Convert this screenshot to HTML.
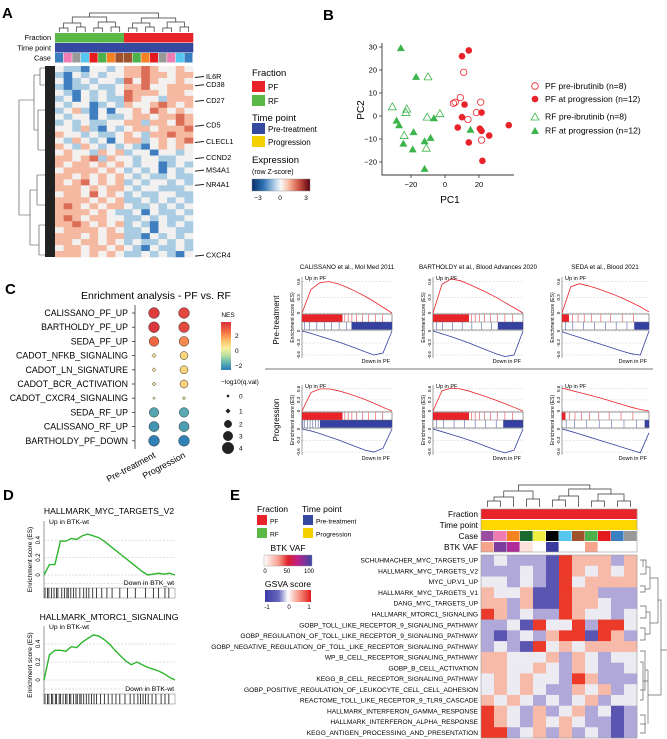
<!DOCTYPE html>
<html><head><meta charset="utf-8">
<style>
html,body{margin:0;padding:0;background:#fff;}
svg{display:block;font-family:"Liberation Sans",sans-serif;}
</style></head>
<body>
<svg id="fig" xmlns="http://www.w3.org/2000/svg" width="667" height="739" viewBox="0 0 667 739">
<rect x="0" y="0" width="667" height="739" fill="#fff"/>
<text x="2" y="18" font-size="15" font-weight="bold">A</text>
<text x="323" y="20" font-size="15" font-weight="bold">B</text>
<text x="5" y="294" font-size="15" font-weight="bold">C</text>
<text x="3" y="500" font-size="15" font-weight="bold">D</text>
<text x="230" y="500" font-size="15" font-weight="bold">E</text>

<g font-size="7.3" text-anchor="end">
<text x="51" y="40">Fraction</text>
<text x="51" y="50.5">Time point</text>
<text x="51" y="60.5">Case</text>
</g>
<g id="dendroA"></g>
<path d="M19,100H34M19,100V215M19,215H30M34,75V130M34,75H40M34,130H38M40,68V85M40,68H45M40,85H45M38,110V150M38,110H45M38,150H45M30,190V245M30,190H37M30,245H39M37,175V205M37,175H45M37,205H45M39,225V255M39,225H45M39,255H45" fill="none" stroke="#444" stroke-width="0.6"/>
<rect x="45" y="66" width="10" height="191" fill="#222"/>
<g id="geneLabels" font-size="7.3"></g>
<g font-size="9.5">
<text x="252" y="76">Fraction</text>
<rect x="252" y="81" width="13" height="11" fill="#e8232a"/>
<text x="268" y="90" font-size="8">PF</text>
<rect x="252" y="95" width="13" height="11" fill="#5ab847"/>
<text x="268" y="104" font-size="8">RF</text>
<text x="252" y="121">Time point</text>
<rect x="252" y="123" width="13" height="11" fill="#3549a0"/>
<text x="268" y="132" font-size="8">Pre-treatment</text>
<rect x="252" y="136" width="13" height="11" fill="#f5d000"/>
<text x="268" y="145" font-size="8">Progression</text>
<text x="252" y="163">Expression</text>
<text x="252" y="174" font-size="7">(row Z-score)</text>
</g>
<defs>
<linearGradient id="gExpr" x1="0" x2="1" y1="0" y2="0"><stop offset="0" stop-color="#08306b"/><stop offset="0.2" stop-color="#2f73b5"/><stop offset="0.42" stop-color="#c5dcee"/><stop offset="0.5" stop-color="#f7f7f7"/><stop offset="0.62" stop-color="#f8c0a6"/><stop offset="0.8" stop-color="#d25a48"/><stop offset="1" stop-color="#5a0010"/></linearGradient>
<linearGradient id="gNes" x1="0" x2="0" y1="0" y2="1"><stop offset="0" stop-color="#d7303c"/><stop offset="0.2" stop-color="#f46d43"/><stop offset="0.4" stop-color="#fdc46a"/><stop offset="0.55" stop-color="#f8f0a0"/><stop offset="0.7" stop-color="#b8e0a0"/><stop offset="0.85" stop-color="#5fb0b0"/><stop offset="1" stop-color="#2c7bb6"/></linearGradient>
<linearGradient id="gVaf" x1="0" x2="1" y1="0" y2="0"><stop offset="0" stop-color="#ffffff"/><stop offset="0.3" stop-color="#f7a090"/><stop offset="0.5" stop-color="#e0202a"/><stop offset="0.7" stop-color="#c0208a"/><stop offset="1" stop-color="#3a4aa8"/></linearGradient>
<linearGradient id="gGsva" x1="0" x2="1" y1="0" y2="0"><stop offset="0" stop-color="#3a3aa8"/><stop offset="0.3" stop-color="#6a6abf"/><stop offset="0.5" stop-color="#ffffff"/><stop offset="0.75" stop-color="#f59080"/><stop offset="1" stop-color="#e01a1a"/></linearGradient>
</defs>
<rect x="252" y="179" width="58" height="12" fill="url(#gExpr)" stroke="#888" stroke-width="0.4"/>
<g font-size="6.5" text-anchor="middle">
<text x="258" y="200">−3</text>
<text x="280" y="200">0</text>
<text x="306" y="200">3</text>
</g>

<g id="scatter"></g>
<text x="450" y="203" font-size="10" text-anchor="middle">PC1</text>
<text x="0" y="0" font-size="10" text-anchor="middle" transform="translate(364,110) rotate(-90)">PC2</text>
<g font-size="8.6">
<circle cx="535" cy="86" r="3.3" fill="none" stroke="#e8232a" stroke-width="0.8"/>
<text x="545" y="89">PF pre-ibrutinib (n=8)</text>
<circle cx="535" cy="99" r="3.3" fill="#e8232a"/>
<text x="545" y="102">PF at progression (n=12)</text>
<path d="M531,120L535,113L539,120Z" fill="none" stroke="#3cb44b" stroke-width="0.8"/>
<text x="545" y="119.5">RF pre-ibrutinib (n=8)</text>
<path d="M531,134L535,127L539,134Z" fill="#3cb44b"/>
<text x="545" y="133.5">RF at progression (n=12)</text>
</g>

<text x="156" y="299" font-size="10.5" text-anchor="middle">Enrichment analysis - PF vs. RF</text>
<g id="dotplot"></g>
<text x="228" y="317" font-size="6.5" text-anchor="middle">NES</text>
<rect x="221" y="322" width="10" height="48" fill="url(#gNes)"/>
<g font-size="6.5">
<text x="235" y="338">2</text>
<text x="235" y="353">0</text>
<text x="235" y="368">−2</text>
</g>
<text x="221" y="384" font-size="6.5">−log10(q.val)</text>
<g id="sizeLegend"></g>
<text x="279" y="320" font-size="8" text-anchor="middle" transform="rotate(-90 279 320)">Pre-treatment</text>
<text x="279" y="420" font-size="8" text-anchor="middle" transform="rotate(-90 279 420)">Progression</text>
<line x1="265" y1="369" x2="653" y2="369" stroke="#777" stroke-width="0.9"/>
<g font-size="6.3" text-anchor="middle">
<text x="347" y="269">CALISSANO et al., Mol Med 2011</text>
<text x="478" y="269">BARTHOLDY et al., Blood Advances 2020</text>
<text x="605" y="269">SEDA et al., Blood 2021</text>
</g>
<g id="gsea"></g>

<text x="109" y="514" font-size="8.6" text-anchor="middle">HALLMARK_MYC_TARGETS_V2</text>
<text x="109" y="620" font-size="8.6" text-anchor="middle">HALLMARK_MTORC1_SIGNALING</text>
<g id="dplots"></g>

<g font-size="8.6">
<text x="257" y="512">Fraction</text>
<rect x="257" y="515" width="10" height="10" fill="#e8232a"/>
<text x="270" y="523.5" font-size="6.6">PF</text>
<rect x="257" y="528" width="10" height="10" fill="#5ab847"/>
<text x="270" y="536.5" font-size="6.6">RF</text>
<text x="302" y="512">Time point</text>
<rect x="303" y="515" width="10" height="10" fill="#3549a0"/>
<text x="316" y="523.5" font-size="6.6">Pre-treatment</text>
<rect x="303" y="528" width="10" height="10" fill="#f5d000"/>
<text x="316" y="536.5" font-size="6.6">Progression</text>
<text x="288" y="551" text-anchor="middle">BTK VAF</text>
<rect x="264" y="555" width="48" height="11" fill="url(#gVaf)" stroke="#999" stroke-width="0.4"/>
<text x="288" y="587" text-anchor="middle">GSVA score</text>
<rect x="265" y="590" width="46" height="12" fill="url(#gGsva)"/>
</g>
<g font-size="6" text-anchor="middle">
<text x="265" y="573">0</text>
<text x="287" y="573">50</text>
<text x="309" y="573">100</text>
<text x="267" y="609">-1</text>
<text x="289" y="609">0</text>
<text x="309" y="609">1</text>
</g>
<g font-size="8.3" text-anchor="end">
<text x="478" y="517">Fraction</text>
<text x="478" y="528">Time point</text>
<text x="478" y="539">Case</text>
<text x="478" y="550">BTK VAF</text>
</g>
<g id="dendroE"></g>
<path d="M640,560H646V574H640M643,560V567M640,586H645V592H640M645,589H650M650,567H646M650,567V589M650,578H655M640,606H646V618H640M640,628H645V640H640M646,612H650V634H645M650,623H658M655,578H658V600M658,600V623M640,651H645V690H640M640,662H643V700H640M643,681H648M640,715H645V733H640M640,724H646M648,670V724M645,670H648M648,695H661V600H658M661,650H667" fill="none" stroke="#666" stroke-width="0.7"/>
<g id="heatE"></g>
<g id="heatA"></g>
</svg>
<script>
// ===== Panel A data =====
const aCaseColors = ["#3a7fc0","#f07cb4","#999999","#56c8f0","#e41a1c","#4db04a","#f58220","#a0522d","#a0522d","#4db04a","#f58220","#e41a1c","#999999","#f07cb4","#56c8f0","#3a7fc0"];
const aFraction = ["RF","RF","RF","RF","RF","RF","RF","RF","PF","PF","PF","PF","PF","PF","PF","PF"];
const aRows = [
"wbbBwwbwrrRrwwrw","bBwbwbwwrrRrrwrr","wBbwbwwbRwRrwwrw","bBbbwbbwrrRwwrrr",
"wbBwbwbwRrrrwrrw","bwBwbwbbRrwwbrrr","wbwwBbwbrwwrRrwr","bwrbBwBwwrwRrwrw",
"wbwwBwbbwrrwrrRr","bwbwbbwwrrbrrwRr","wwbrbBwbwrrwrrrR","rwwbwbbwrwbrrRrr",
"wbrwbwBwrrbwrwrR","rwbrwbwbwbBwrwrw","wrwwbrwrbwwBwwbw","rrwrRbrwwbwwbbww",
"rwrrwrwrwbwwBbwb","wrrrrwrwbwbwBwbw","rrwrwrwrwbwbbwbb","rwrRwrwrbwbwwbwb",
"rrrwrwrrwbwwbbbw","wrrwRwrwbwbbwwbb","rrrrwrwrbbwbwbwb","rRrwrwrrwbbwbwbw",
"rrrrwrwbbwBwbbwb","rRrwrrwwbbwbwbbw","rrRrwrwrbwbBwbwb","wrrrrwrwbbwBwwbb",
"rrrwrwrrbbBwbwbw","rrwrrwrwbwbbwbwb","wrrwrrwrwbBwbbwb","rrrwrwrwbbwbwbBw"];
const aGenes = ["IL6R","CD38","CD27","CD5","CLECL1","CCND2","MS4A1","NR4A1","CXCR4"];
const aGeneRowPos = [0.055,0.098,0.18,0.31,0.395,0.48,0.545,0.62,0.99];
// ===== Panel B data =====
const pfPreX=[11,9,5,6,13.5,21,18.5,21.5], pfPreY=[19,8,5.5,6,-1.5,6,1.5,-10.5];
const pfProgX=[10,14,11.5,21.5,10,7.5,20.5,21.5,26,14,37.5,22], pfProgY=[26,28.5,5,1.5,-0.5,-5,-5.5,-6.5,-8.5,-11.5,-4,-19.5];
const rfPreX=[-10,-31,-22.5,-23,-10.5,-3,-24,-11], rfPreY=[17,4,3,1.5,-0.5,1,-8.5,-14];
const rfProgX=[-26,-17,-28.5,-27,-18.5,-24.5,-19,-12,-8.5,-6.5,-12,15], rfProgY=[29.5,17,-2,-4,-7,-12,-14.5,-11,-9.5,-1,-23,-6];
const bXTicks=[-20,0,20], bYTicks=[30,20,10,0,-10,-20];
// ===== Panel C data =====
const pathways=["CALISSANO_PF_UP","BARTHOLDY_PF_UP","SEDA_PF_UP","CADOT_NFKB_SIGNALING","CADOT_LN_SIGNATURE","CADOT_BCR_ACTIVATION","CADOT_CXCR4_SIGNALING","SEDA_RF_UP","CALISSANO_RF_UP","BARTHOLDY_PF_DOWN"];
const nesPre=[3.0,3.1,2.3,0.5,0.5,0.5,0.4,-1.7,-2.1,-2.5];
const nesProg=[2.8,2.8,1.9,0.9,0.9,0.9,0.5,-1.6,-1.9,-2.5];
const qPre=[3.6,3.6,3.1,0.6,0.5,0.5,0.1,3.0,3.3,3.6];
const qProg=[3.6,3.5,3.1,2.3,2.3,2.3,0.3,3.0,3.3,3.6];
const qLegend=[0,1,2,3,4];
const gseaUp=[
[0,0.45,0.58,0.6,0.56,0.49,0.41,0.32,0.22,0.11,0],
[0,0.55,0.65,0.62,0.55,0.47,0.39,0.3,0.2,0.1,0],
[0,0.5,0.56,0.52,0.47,0.41,0.35,0.28,0.2,0.12,0.02],
[0,0.5,0.6,0.6,0.55,0.48,0.4,0.31,0.21,0.1,0],
[0,0.55,0.62,0.6,0.54,0.46,0.38,0.29,0.2,0.1,0],
[0.62,0.56,0.5,0.44,0.38,0.31,0.24,0.17,0.1,0.04,0]];
const gseaDown=[
[0,-0.06,-0.13,-0.2,-0.27,-0.35,-0.43,-0.52,-0.6,-0.55,0],
[0,-0.07,-0.14,-0.22,-0.3,-0.39,-0.48,-0.57,-0.64,-0.6,0],
[-0.02,-0.09,-0.16,-0.23,-0.3,-0.37,-0.44,-0.51,-0.57,-0.6,0],
[0,-0.05,-0.12,-0.2,-0.28,-0.37,-0.46,-0.55,-0.6,-0.5,0],
[0,-0.07,-0.14,-0.21,-0.29,-0.37,-0.46,-0.55,-0.62,-0.55,0],
[0,-0.06,-0.13,-0.2,-0.27,-0.34,-0.41,-0.48,-0.55,-0.62,-0.1]];
const redDense=[0.45,0.4,0.08,0.45,0.4,0.04];
const blueDenseStart=[0.55,0.72,0.83,0.2,0.78,0.95];
const sparseRed=[0.05,0.12,0.2,0.3,0.42,0.55,0.7,0.85];
const sparseBlue=[0.05,0.15,0.3,0.45,0.6,0.75,0.9];
// Panel D
const dMyc=[0,0.12,0.12,0.39,0.39,0.42,0.41,0.45,0.47,0.45,0.43,0.39,0.34,0.29,0.24,0.19,0.14,0.09,0.04,0.0,0.01,0.02,0.01,0.02,0];
const dMtor=[0,0.28,0.33,0.33,0.32,0.37,0.36,0.42,0.46,0.5,0.49,0.45,0.4,0.33,0.27,0.21,0.17,0.2,0.17,0.14,0.12,0.1,0.07,0.03,0];
const dMycHits=[0,0.02,0.03,0.05,0.07,0.09,0.1,0.13,0.15,0.17,0.18,0.2,0.22,0.24,0.27,0.3,0.32,0.34,0.37,0.4,0.44,0.48,0.52,0.58,0.64,0.7,0.78,0.84,0.88,0.93,0.96];
const dMtorHits=[0,0.02,0.03,0.05,0.06,0.08,0.09,0.11,0.12,0.14,0.16,0.17,0.19,0.2,0.22,0.24,0.25,0.27,0.28,0.3,0.32,0.34,0.36,0.38,0.4,0.43,0.46,0.49,0.52,0.55,0.58,0.62,0.66,0.69,0.72,0.74,0.76,0.78,0.8,0.83,0.86,0.9,0.93,0.96];
// Panel E data
const eCaseColors=["#9b4ea0","#f07cb4","#f58220","#1a6a30","#f0ee40","#000000","#56c8f0","#a0522d","#4db04a","#e41a1c","#3a7fc0","#999999"];
const eVaf=[28,80,65,8,0,100,0,0,28,0,0,0];
const eSets=["SCHUHMACHER_MYC_TARGETS_UP","HALLMARK_MYC_TARGETS_V2","MYC_UP.V1_UP","HALLMARK_MYC_TARGETS_V1","DANG_MYC_TARGETS_UP","HALLMARK_MTORC1_SIGNALING","GOBP_TOLL_LIKE_RECEPTOR_9_SIGNALING_PATHWAY","GOBP_REGULATION_OF_TOLL_LIKE_RECEPTOR_9_SIGNALING_PATHWAY","GOBP_NEGATIVE_REGULATION_OF_TOLL_LIKE_RECEPTOR_SIGNALING_PATHWAY","WP_B_CELL_RECEPTOR_SIGNALING_PATHWAY","GOBP_B_CELL_ACTIVATION","KEGG_B_CELL_RECEPTOR_SIGNALING_PATHWAY","GOBP_POSITIVE_REGULATION_OF_LEUKOCYTE_CELL_CELL_ADHESION","REACTOME_TOLL_LIKE_RECEPTOR_9_TLR9_CASCADE","HALLMARK_INTERFERON_GAMMA_RESPONSE","HALLMARK_INTERFERON_ALPHA_RESPONSE","KEGG_ANTIGEN_PROCESSING_AND_PRESENTATION"];
const eRows=["bwbbbBRrrrbr","bbbwbBRrwrwr","wwbwbBRwrrrr","rwwrBBRrrbbb","rrbrBBRrrwbb","RrbwbbRrwwbw","bbwBRwwRbRRw","bBbwbrRRBRrb","bwbBRwrwrrrr","rrwwwrbrwbww","rrwwrwbrwbbw","wrwrwwbRrbbb","wrwrwbbrwrbw","rwrwbwbwrbww","RrwbrbwrbwBb","RrwbrwrwbbBb","RRbwrbrbwbBb"];
// dendrogram topologies: [left, right, mergeHeight]
const treeA=[[[[0,1,28],[2,3,27],23],[[4,5,28],[6,7,27],22],17],[[[8,9,28],[10,11,27],23],[[12,13,28],[14,15,27],22],18],13];
const treeE=[[[[0,1,501],2,497],[3,4,499],491],[[[5,6,500],7,496],[[8,9,501],[10,11,501],494],489],485];

const NS="http://www.w3.org/2000/svg";
function mk(tag, attrs, parent){const e=document.createElementNS(NS,tag);for(const k in attrs)e.setAttribute(k,attrs[k]);parent.appendChild(e);return e;}

function drawTree(node,parent,leafX,leafY){
  if(typeof node==="number")return [leafX(node),leafY];
  const a=drawTree(node[0],parent,leafX,leafY), b=drawTree(node[1],parent,leafX,leafY), h=node[2];
  const p=mk("path",{d:`M${a[0]},${a[1]}V${h}H${b[0]}V${b[1]}`,fill:"none",stroke:"#333","stroke-width":0.7},parent);
  
  
  return [(a[0]+b[0])/2,h];
}

// ===== Panel A =====
const heatA=document.getElementById("heatA");
const aColors={B:"#3f7fbf",b:"#a9cce3",w:"#f3f1f0",r:"#f5b8a0",R:"#dc6e58"};
const ax0=55, ax1=193, ay0=66, ay1=257;
const acw=(ax1-ax0)/aCaseColors.length, arh=(ay1-ay0)/aRows.length;
function aX(i){return ax0+i*acw;}
drawTree(treeA,document.getElementById("dendroA"),i=>aX(i)+acw/2,32);
aFraction.forEach((f,i)=>{
  const r=mk("rect",{x:aX(i),y:33,width:acw+0.3,height:9.5,fill:f==="PF"?"#e8232a":"#5ab847"},heatA);
  
  
  const t=mk("rect",{x:aX(i),y:43,width:acw+0.3,height:9.5,fill:"#3549a0"},heatA);
  
  
  const c=mk("rect",{x:aX(i),y:53,width:acw-0.5,height:9.5,fill:aCaseColors[i]},heatA);
  
  
});
aRows.forEach((row,ri)=>{
  for(let ci=0;ci<row.length;ci++){
    const r=mk("rect",{x:aX(ci),y:ay0+ri*arh,width:acw+0.3,height:arh+0.3,fill:aColors[row[ci]]},heatA);
    
    
  }
});
const gl=document.getElementById("geneLabels");
aGenes.forEach((g,i)=>{
  const y=ay0+aGeneRowPos[i]*(ay1-ay0);
  const l=mk("line",{x1:195,y1:y+1,x2:204,y2:y,stroke:"#222","stroke-width":1},gl);
  
  
  const t=mk("text",{x:206,y:y+2.5},gl);
  t.textContent=g;
  
  
});

// ===== Panel B =====
const sc=document.getElementById("scatter");
function bx(v){return 445+1.7*v;}
function by(v){return 116-2.3*v;}
const axl=mk("path",{d:`M382,43V175H514`,fill:"none",stroke:"#333","stroke-width":0.9},sc);


bXTicks.forEach(v=>{
  const t=mk("line",{x1:bx(v),y1:175,x2:bx(v),y2:178,stroke:"#333","stroke-width":0.8},sc);
  
  
  const l=mk("text",{x:bx(v),y:187,"font-size":7.5,"text-anchor":"middle"},sc);
  l.textContent=v<0?"−"+Math.abs(v):String(v);
  
  
});
bYTicks.forEach(v=>{
  const t=mk("line",{x1:379,y1:by(v),x2:382,y2:by(v),stroke:"#333","stroke-width":0.8},sc);
  
  
  const l=mk("text",{x:377,y:by(v)+2.5,"font-size":7.5,"text-anchor":"end"},sc);
  l.textContent=v<0?"−"+Math.abs(v):String(v);
  
  
});
function tri(x,y){return `M${x-4},${y+3}L${x},${y-4}L${x+4},${y+3}Z`;}
pfPreX.forEach((v,i)=>{
  const p=mk("circle",{cx:bx(v),cy:by(pfPreY[i]),r:3.2,fill:"none",stroke:"#e8232a","stroke-width":0.8},sc);
  
  
});
pfProgX.forEach((v,i)=>{
  const p=mk("circle",{cx:bx(v),cy:by(pfProgY[i]),r:3.3,fill:"#e8232a"},sc);
  
  
});
rfPreX.forEach((v,i)=>{
  const p=mk("path",{d:tri(bx(v),by(rfPreY[i])),fill:"none",stroke:"#3cb44b","stroke-width":0.8},sc);
  
  
});
rfProgX.forEach((v,i)=>{
  const p=mk("path",{d:tri(bx(v),by(rfProgY[i])),fill:"#3cb44b"},sc);
  
  
});

// ===== Panel C dot plot =====
const dp=document.getElementById("dotplot");
const nesStops=[[-2.6,[44,123,182]],[-1.5,[95,176,176]],[-0.5,[184,224,160]],[0.3,[248,240,160]],[1.2,[253,196,106]],[2.2,[244,109,67]],[3.2,[215,48,60]]];
function nesColor(v){
  if(v<=nesStops[0][0])return `rgb(${nesStops[0][1]})`;
  for(let i=1;i<nesStops.length;i++){if(v<=nesStops[i][0]){const a=nesStops[i-1],b=nesStops[i];const t=(v-a[0])/(b[0]-a[0]);return `rgb(${a[1].map((c,k)=>Math.round(c+(b[1][k]-c)*t)).join(",")})`;}}
  return `rgb(${nesStops[nesStops.length-1][1]})`;
}
function rowY(i){return 313+i*14.2;}
const colX=[154,184];
const dAxis=mk("line",{x1:135,y1:305,x2:135,y2:449,stroke:"#333","stroke-width":0.8},dp);


function drawMark(parent,x,y,q,fill){
  let e;
  if(q>=1.5){e=mk("circle",{cx:x,cy:y,r:1.6+q*1.05,fill:fill,stroke:"#333","stroke-width":0.5},parent);}
  else{const s=1.2+q*1.6;e=mk("path",{d:`M${x},${y-s}L${x+s},${y}L${x},${y+s}L${x-s},${y}Z`,fill:fill,stroke:"#333","stroke-width":0.5},parent);}
  return e;
}
pathways.forEach((p,i)=>{
  const y=rowY(i);
  const t=mk("text",{x:128,y:y+3,"font-size":8.8,"text-anchor":"end"},dp);
  t.textContent=p;
  
  
  const tk=mk("line",{x1:132,y1:y,x2:135,y2:y,stroke:"#333","stroke-width":0.8},dp);
  
  
  const a=drawMark(dp,colX[0],y,qPre[i],nesColor(nesPre[i]));
  
  
  const b=drawMark(dp,colX[1],y,qProg[i],nesColor(nesProg[i]));
  
  
});
["Pre-treatment","Progression"].forEach((s,i)=>{
  const t=mk("text",{x:colX[i]+2,y:457,"font-size":8.8,"text-anchor":"end",transform:`rotate(-28 ${colX[i]+2} 457)`},dp);
  t.textContent=s;
  
  
});
const sl=document.getElementById("sizeLegend");
const slY=[396,411,424,436,448];
qLegend.forEach((q,i)=>{
  const m=drawMark(sl,228,slY[i],q===0?0.2:(q===1?0.7:q),"#222");
  
  
  const t=mk("text",{x:239,y:slY[i]+2.5,"font-size":6.5},sl);
  t.textContent=String(q);
  
  
});

// ===== GSEA small plots =====
const gs=document.getElementById("gsea");
const cols=[[302,392],[433,523],[562,649]];
const rowsL=[{y0:277,z:313,b0:314,b1:330,y1:358},{y0:385,z:411,b0:412,b1:428,y1:455}];
const upTicks=[["0.6",0.6],["0.3",0.3],["0",0]];
const dnTicks=[["0",0],["-0.3",-0.3],["-0.6",-0.6]];
for(let k=0;k<6;k++){
  const c=cols[k%3], L=rowsL[Math.floor(k/3)];
  const x0=c[0], x1=c[1], w=x1-x0;
  const uy=v=>L.z-(v/0.65)*(L.z-L.y0-2);
  const dy=v=>L.b1+1+(-v/0.65)*(L.y1-L.b1-2);
  const px=i=>x0+i*w/10;
  const g=mk("g",{},gs);
  
  
  upTicks.forEach(t=>{const l=mk("line",{x1:x0,y1:uy(t[1]),x2:x1,y2:uy(t[1]),stroke:"#ccc","stroke-width":0.5,"stroke-dasharray":"2,1.5"},g);
    
    
    const tx=mk("text",{x:x0-2,y:uy(t[1]),"font-size":4.5,"text-anchor":"middle",transform:`rotate(-90 ${x0-2} ${uy(t[1])})`},g);
    tx.textContent=t[0];
    
    });
  dnTicks.forEach(t=>{const l=mk("line",{x1:x0,y1:dy(t[1]),x2:x1,y2:dy(t[1]),stroke:"#ccc","stroke-width":0.5,"stroke-dasharray":"2,1.5"},g);
    
    
    const tx=mk("text",{x:x0-2,y:dy(t[1]),"font-size":4.5,"text-anchor":"middle",transform:`rotate(-90 ${x0-2} ${dy(t[1])})`},g);
    tx.textContent=t[0];
    
    });
  const yl=mk("line",{x1:x0,y1:L.y0,x2:x0,y2:L.y1,stroke:"#444","stroke-width":0.5},g);
  
  
  const ylab=mk("text",{x:x0-8,y:(L.y0+L.y1)/2,"font-size":5,"text-anchor":"middle",transform:`rotate(-90 ${x0-8} ${(L.y0+L.y1)/2})`},g);
  ylab.textContent="Enrichment score (ES)";
  
  
  const band=mk("rect",{x:x0,y:L.b0,width:w,height:L.b1-L.b0,fill:"#fff",stroke:"#555","stroke-width":0.6},g);
  
  
  const mid=(L.b0+L.b1)/2;
  const rd=mk("rect",{x:x0,y:L.b0+0.5,width:w*redDense[k],height:mid-L.b0-0.5,fill:"#e8232a"},g);
  
  
  sparseRed.forEach(f=>{const xx=x0+w*(redDense[k]+(1-redDense[k])*f*0.95);
    const l=mk("line",{x1:xx,y1:L.b0+0.5,x2:xx,y2:mid,stroke:"#e8232a","stroke-width":0.5},g);
    
    });
  const bd=mk("rect",{x:x0+w*blueDenseStart[k],y:mid,width:w*(1-blueDenseStart[k]),height:L.b1-mid-0.5,fill:"#3441a0"},g);
  
  
  sparseBlue.forEach(f=>{const xx=x0+w*blueDenseStart[k]*f;
    const l=mk("line",{x1:xx,y1:mid,x2:xx,y2:L.b1-0.5,stroke:"#3441a0","stroke-width":0.5},g);
    
    });
  const sep=mk("line",{x1:x0,y1:mid,x2:x1,y2:mid,stroke:"#777","stroke-width":0.6},g);
  
  
  const up=mk("polyline",{points:gseaUp[k].map((v,i)=>px(i)+","+uy(v)).join(" "),fill:"none",stroke:"#e8232a","stroke-width":0.8},g);
  
  
  const dn=mk("polyline",{points:gseaDown[k].map((v,i)=>px(i)+","+dy(v)).join(" "),fill:"none",stroke:"#3441a0","stroke-width":0.8},g);
  
  
  const ut=mk("text",{x:x0+3,y:L.y0+3,"font-size":5.5},g);
  ut.textContent="Up in PF";
  
  
  const dt=mk("text",{x:x1-2,y:L.y1+5,"font-size":5.5,"text-anchor":"end"},g);
  dt.textContent="Down in PF";
  
  
}

// ===== Panel D =====
const dpl=document.getElementById("dplots");
const dCfg=[{es:dMyc,hits:dMycHits,zero:575,s:87,top:521,bar0:588,bar1:598,down:"Down in BTK_wt"},{es:dMtor,hits:dMtorHits,zero:680,s:90,top:626,bar0:694,bar1:704,down:"Down in BTK-wt"}];
const dx0=44, dx1=175;
dCfg.forEach((c,ci)=>{
  const g=mk("g",{},dpl);
  
  
  const yy=v=>c.zero-v*c.s;
  [0.4,0.2,0,-0.1].forEach(v=>{
    const l=mk("line",{x1:dx0,y1:yy(v),x2:dx1,y2:yy(v),stroke:"#bbb","stroke-width":0.5,"stroke-dasharray":"2,1.5"},g);
    
    
  });
  [0,0.2,0.4].forEach(v=>{
    const t=mk("text",{x:dx0-4,y:yy(v),"font-size":6,"text-anchor":"middle",transform:`rotate(-90 ${dx0-4} ${yy(v)})`},g);
    t.textContent=String(v);
    
    
  });
  const ax=mk("line",{x1:dx0,y1:c.top,x2:dx0,y2:c.bar1,stroke:"#555","stroke-width":0.6},g);
  
  
  const yt=mk("text",{x:dx0-12,y:(c.top+c.bar1)/2,"font-size":6.5,"text-anchor":"middle",transform:`rotate(-90 ${dx0-12} ${(c.top+c.bar1)/2})`},g);
  yt.textContent="Enrichment score (ES)";
  
  
  const br=mk("rect",{x:dx0,y:c.bar0,width:dx1-dx0,height:c.bar1-c.bar0,fill:"#fff",stroke:"#777","stroke-width":0.5},g);
  
  
  c.hits.forEach(h=>{
    const xx=dx0+1+h*(dx1-dx0-2);
    const l=mk("line",{x1:xx,y1:c.bar0,x2:xx,y2:c.bar1,stroke:"#111","stroke-width":0.8},g);
    
    
  });
  const n=c.es.length-1;
  const ln=mk("polyline",{points:c.es.map((v,i)=>(dx0+i*(dx1-dx0)/n)+","+yy(v)).join(" "),fill:"none",stroke:"#2db52d","stroke-width":1.4},g);
  
  
  const ut=mk("text",{x:dx0+5,y:c.top+3,"font-size":6.8},g);
  ut.textContent="Up in BTK-wt";
  
  
  const dt=mk("text",{x:dx1-1,y:c.bar0-3,"font-size":6.8,"text-anchor":"end"},g);
  dt.textContent=c.down;
  
  
});

// ===== Panel E =====
const he=document.getElementById("heatE");
const ex0=481, ex1=637, ey0=555, ey1=738;
const ecw=(ex1-ex0)/eCaseColors.length, erh=(ey1-ey0)/eSets.length;
const eColors={B:"#5a55b0",b:"#b0a8d8",w:"#ecebf2",r:"#f7b9a8",R:"#ec3a2a"};
function vafColor(v){if(v<=0)return "#ffffff";if(v<20)return "#fde2dc";if(v<40)return "#f6a58c";if(v<70)return "#b02a9a";if(v<90)return "#7a3c9e";return "#3a3aa0";}
drawTree(treeE,document.getElementById("dendroE"),i=>ex0+i*ecw+ecw/2,507);
eCaseColors.forEach((cc,i)=>{
  const x=ex0+i*ecw;
  const f=mk("rect",{x:x,y:509,width:ecw+0.3,height:10,fill:"#e8232a"},he);
  
  
  const t=mk("rect",{x:x,y:520,width:ecw+0.3,height:10,fill:"#ffd700"},he);
  
  
  const c=mk("rect",{x:x,y:531,width:ecw-0.4,height:10,fill:cc},he);
  
  
  const v=mk("rect",{x:x,y:542,width:ecw-0.4,height:10,fill:vafColor(eVaf[i])},he);
  
  
});
const frm=mk("rect",{x:ex0,y:509,width:ex1-ex0,height:43,fill:"none",stroke:"#999","stroke-width":0.6},he);


eRows.forEach((row,ri)=>{
  for(let ci=0;ci<row.length;ci++){
    const r=mk("rect",{x:ex0+ci*ecw,y:ey0+ri*erh,width:ecw+0.3,height:erh+0.3,fill:eColors[row[ci]]},he);
    
    
  }
  const t=mk("text",{x:478,y:ey0+ri*erh+erh/2+2.3,"font-size":6.6,"text-anchor":"end"},he);
  t.textContent=eSets[ri];
  
  
});
const hf=mk("rect",{x:ex0,y:ey0,width:ex1-ex0,height:ey1-ey0,fill:"none",stroke:"#999","stroke-width":0.6},he);


</script>
</body></html>
